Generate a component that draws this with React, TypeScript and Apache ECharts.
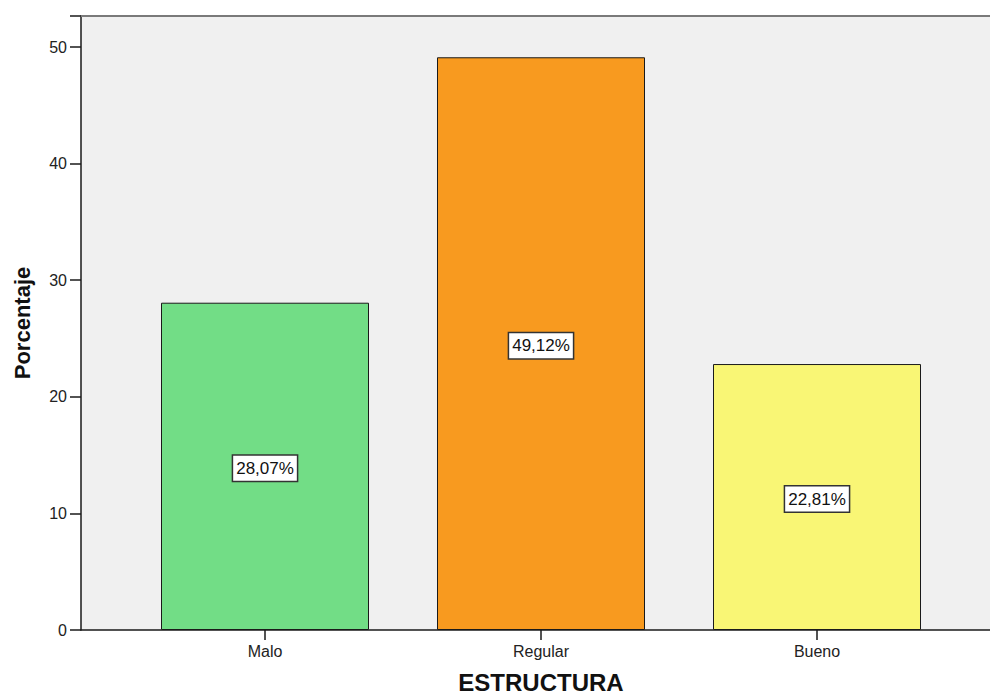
import React, { useEffect, useRef } from "react";
import * as echarts from "echarts";

// Frequency distribution of the ESTRUCTURA rating
const categories = ["Malo", "Regular", "Bueno"];
const percentages = [28.07, 49.12, 22.81];
const barColors = ["#72dd86", "#f89a1f", "#f9f675"];
const yTicks = [0, 10, 20, 30, 40, 50];
const yMax = 52.66;

const FONT = "'Liberation Sans', Arial, sans-serif";

export default function App() {
  const ref = useRef<HTMLDivElement>(null);

  useEffect(() => {
    if (!ref.current) return;
    const chart = echarts.init(ref.current, null, { renderer: "svg" });

    const option: any = {
      animation: false,
      backgroundColor: "#ffffff",
      textStyle: { fontFamily: FONT },
      grid: [
        // frame: grey panel, y axis and baseline
        {
          left: 81,
          right: -12,
          top: 16,
          bottom: 64,
          show: true,
          backgroundColor: "#f0f0f0",
          borderWidth: 0,
          containLabel: false,
          outerBoundsMode: "none",
        },
        // bars
        {
          left: 127,
          right: 35,
          top: 16,
          bottom: 64,
          containLabel: false,
          outerBoundsMode: "none",
        },
      ],
      xAxis: [
        {
          gridIndex: 0,
          type: "value",
          min: 0,
          max: 1,
          position: "bottom",
          axisLine: { show: true, lineStyle: { color: "#1a1a1a", width: 1.5 } },
          axisTick: { show: false },
          axisLabel: { show: false },
          splitLine: { show: false },
        },
        {
          gridIndex: 0,
          type: "value",
          min: 0,
          max: 1,
          position: "top",
          axisLine: { show: true, lineStyle: { color: "#7a7a7a", width: 2 } },
          axisTick: { show: false },
          axisLabel: { show: false },
          splitLine: { show: false },
        },
        {
          gridIndex: 1,
          type: "category",
          data: categories,
          axisLine: { show: false },
          axisTick: {
            show: true,
            alignWithLabel: true,
            length: 10,
            lineStyle: { color: "#1a1a1a", width: 1.5 },
          },
          axisLabel: { color: "#222", fontSize: 16, margin: 13, fontFamily: FONT },
          name: "ESTRUCTURA",
          nameLocation: "middle",
          nameGap: 40,
          nameTextStyle: {
            color: "#111",
            fontSize: 24,
            fontWeight: "bold",
            fontFamily: FONT,
            lineHeight: 24,
          },
        },
      ],
      yAxis: [
        {
          gridIndex: 0,
          type: "value",
          min: 0,
          max: yMax,
          interval: 10,
          axisLine: { show: true, lineStyle: { color: "#1a1a1a", width: 1.5 } },
          axisTick: { show: true, length: 11, lineStyle: { color: "#1a1a1a", width: 1.5 } },
          axisLabel: {
            color: "#222",
            fontSize: 16,
            margin: 14,
            fontFamily: FONT,
            formatter: (v: number) => (yTicks.includes(v) ? String(v) : ""),
          },
          splitLine: { show: false },
          name: "Porcentaje",
          nameLocation: "middle",
          nameGap: 48,
          nameRotate: 90,
          nameTextStyle: {
            color: "#111",
            fontSize: 22,
            fontWeight: "bold",
            fontFamily: FONT,
          },
        },
        {
          gridIndex: 1,
          type: "value",
          min: 0,
          max: yMax,
          show: false,
        },
      ],
      series: [
        {
          type: "bar",
          xAxisIndex: 2,
          yAxisIndex: 1,
          barWidth: 208,
          data: percentages.map((v, i) => ({
            value: v,
            itemStyle: { color: barColors[i] },
          })),
          itemStyle: { borderColor: "#1a1a1a", borderWidth: 1 },
          label: {
            show: true,
            position: "inside",
            offset: [0, 2],
            formatter: (p: any) => p.value.toFixed(2).replace(".", ",") + "%",
            color: "#111",
            fontSize: 17,
            fontFamily: FONT,
            backgroundColor: "#ffffff",
            borderColor: "#333",
            borderWidth: 1.5,
            padding: [5, 3, 3, 3],
          },
        },
      ],
    };

    chart.setOption(option);
    return () => chart.dispose();
  }, []);

  return (
    <div
      ref={ref}
      style={{ position: "fixed", left: 0, top: 0, width: 990, height: 694 }}
    />
  );
}
